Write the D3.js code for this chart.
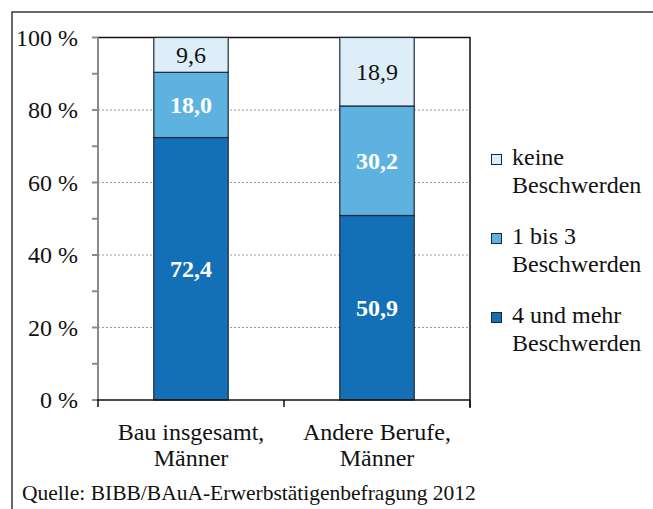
<!DOCTYPE html>
<html>
<head>
<meta charset="utf-8">
<script src="https://cdn.jsdelivr.net/npm/d3@7"></script>
<style>
  html, body { margin: 0; padding: 0; background: #fff; }
  svg { display: block; }
  text { font-family: "Liberation Serif", "Times New Roman", serif; }
</style>
</head>
<body>
<svg id="chart" width="653" height="509"></svg>
<script>
// Beschwerden nach Berufsgruppe, Männer (Anteile in %)
const categories = [["Bau insgesamt,", "Männer"], ["Andere Berufe,", "Männer"]];
const series = ["4 und mehr Beschwerden", "1 bis 3 Beschwerden", "keine Beschwerden"];
const legendLines = [["keine", "Beschwerden"], ["1 bis 3", "Beschwerden"], ["4 und mehr", "Beschwerden"]];
const valuesMany = [72.4, 50.9];
const valuesFew = [18.0, 30.2];
const valuesNone = [9.6, 18.9];
const yTicks = [0, 20, 40, 60, 80, 100];
const yTickLabels = ["0 %", "20 %", "40 %", "60 %", "80 %", "100 %"];
const colors = ["#1370b7", "#5db2e0", "#ddeef8"];

const svg = d3.select("#chart");
const fontSize = 24;

// outer frame (open to the right and bottom)
svg.append("rect")
  .attr("x", 12).attr("y", 12)
  .attr("width", 700).attr("height", 600)
  .attr("fill", "none").attr("stroke", "#444").attr("stroke-width", 1.6);

const plot = { left: 98, right: 470, top: 37.5, bottom: 400 };

const catKeys = categories.map(c => c.join(" "));
const x = d3.scaleBand().domain(catKeys)
  .range([plot.left, plot.right]).paddingInner(0.6).paddingOuter(0.3);
const y = d3.scaleLinear().domain([0, 100]).range([plot.bottom, plot.top]);

// dotted gridlines
svg.append("g").selectAll("line")
  .data(yTicks.filter(t => t > 0 && t < 100))
  .join("line")
  .attr("x1", plot.left).attr("x2", plot.right)
  .attr("y1", d => y(d)).attr("y2", d => y(d))
  .attr("stroke", "#9a9a9a").attr("stroke-width", 1)
  .attr("stroke-dasharray", "2,2");

// top and right border of the plot area
svg.append("path")
  .attr("d", `M${plot.left},${plot.top}H${plot.right}V${plot.bottom + 8}`)
  .attr("fill", "none").attr("stroke", "#111").attr("stroke-width", 1.5);

// stacked bars
const rows = catKeys.map((k, i) => ({ key: k, many: valuesMany[i], few: valuesFew[i], none: valuesNone[i] }));
const stack = d3.stack().keys(["many", "few", "none"])(rows);

const groups = svg.append("g").selectAll("g")
  .data(stack).join("g")
  .attr("fill", (d, i) => colors[i]);

groups.selectAll("rect")
  .data(d => d.map(p => ({ p, key: d.key })))
  .join("rect")
  .attr("x", d => x(d.p.data.key))
  .attr("width", x.bandwidth())
  .attr("y", d => y(d.p[1]))
  .attr("height", d => y(d.p[0]) - y(d.p[1]))
  .attr("stroke", "#1d2a36").attr("stroke-width", 1.2);

// segment value labels
groups.selectAll("text")
  .data((d, i) => d.map(p => ({ p, i })))
  .join("text")
  .attr("x", d => x(d.p.data.key) + x.bandwidth() / 2)
  .attr("y", d => (y(d.p[0]) + y(d.p[1])) / 2)
  .attr("dy", "0.35em")
  .attr("text-anchor", "middle")
  .attr("font-size", fontSize)
  .attr("font-weight", d => d.i === 2 ? "normal" : "bold")
  .attr("fill", d => d.i === 2 ? "#111" : "#fff")
  .text(d => d3.format(".1f")(d.p[1] - d.p[0]).replace(".", ","));

// y axis
const yAxis = svg.append("g");
yAxis.append("line")
  .attr("x1", plot.left).attr("x2", plot.left)
  .attr("y1", plot.top).attr("y2", plot.bottom)
  .attr("stroke", "#8a8a8a").attr("stroke-width", 2);
yAxis.selectAll("line.tick")
  .data(d3.range(0, 101, 10))
  .join("line").attr("class", "tick")
  .attr("x1", plot.left - 6).attr("x2", plot.left)
  .attr("y1", d => y(d)).attr("y2", d => y(d))
  .attr("stroke", "#8a8a8a").attr("stroke-width", 2);
yAxis.selectAll("text")
  .data(yTicks)
  .join("text")
  .attr("x", plot.left - 20)
  .attr("y", d => y(d))
  .attr("dy", "0.35em")
  .attr("text-anchor", "end")
  .attr("font-size", fontSize)
  .attr("fill", "#111")
  .text((d, i) => yTickLabels[i]);

// x axis
const xAxis = svg.append("g");
xAxis.append("line")
  .attr("x1", plot.left - 1).attr("x2", plot.right)
  .attr("y1", plot.bottom).attr("y2", plot.bottom)
  .attr("stroke", "#111").attr("stroke-width", 1.5);
const step = x.step();
const tickXs = [plot.left, ...catKeys.map(k => x(k) + x.bandwidth() / 2 + step / 2)];
xAxis.selectAll("line.tick")
  .data(tickXs)
  .join("line").attr("class", "tick")
  .attr("x1", d => d).attr("x2", d => d)
  .attr("y1", plot.bottom).attr("y2", plot.bottom + 7)
  .attr("stroke", "#111").attr("stroke-width", 1.5);
xAxis.selectAll("text")
  .data(categories)
  .join("text")
  .attr("text-anchor", "middle")
  .attr("font-size", fontSize)
  .attr("fill", "#111")
  .each(function (d, i) {
    const cx = x(catKeys[i]) + x.bandwidth() / 2;
    d3.select(this).selectAll("tspan")
      .data(d).join("tspan")
      .attr("x", cx)
      .attr("y", (t, j) => 440 + j * 26)
      .text(t => t);
  });

// legend
const legend = svg.append("g");
legendLines.forEach((lines, i) => {
  const y0 = 165 + i * 79;
  legend.append("rect")
    .attr("x", 491.5).attr("y", y0 - 10.5)
    .attr("width", 10).attr("height", 10)
    .attr("fill", colors[2 - i])
    .attr("stroke", "#1d2a36").attr("stroke-width", 1);
  legend.append("text")
    .attr("font-size", fontSize).attr("fill", "#111")
    .selectAll("tspan").data(lines).join("tspan")
    .attr("x", 512)
    .attr("y", (t, j) => y0 + j * 28)
    .text(t => t);
});

// source line
svg.append("text")
  .attr("x", 22).attr("y", 500)
  .attr("font-size", 21.5).attr("fill", "#111")
  .text("Quelle: BIBB/BAuA-Erwerbstätigenbefragung 2012");
</script>
</body>
</html>
